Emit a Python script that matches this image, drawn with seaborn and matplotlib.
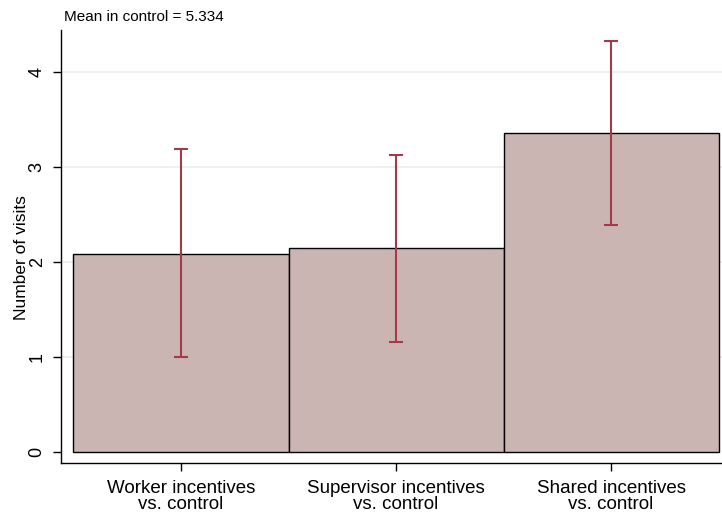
import matplotlib
matplotlib.use("Agg")
import matplotlib.pyplot as plt
import seaborn as sns
import pandas as pd

categories = ["Worker incentives\nvs. control",
              "Supervisor incentives\nvs. control",
              "Shared incentives\nvs. control"]
effects = [2.084, 2.147, 3.358]
ci_low = [1.000, 1.158, 2.389]
ci_high = [3.189, 3.126, 4.326]
y_ticks = [0, 1, 2, 3, 4]
control_mean = 5.334

sns.set_style("white")
plt.rcParams["font.family"] = ["Liberation Sans", "DejaVu Sans"]
plt.rcParams["text.color"] = "black"
plt.rcParams["axes.labelcolor"] = "black"
plt.rcParams["xtick.color"] = "black"
plt.rcParams["ytick.color"] = "black"

df = pd.DataFrame({"group": categories, "effect": effects})

fig = plt.figure(figsize=(7.22, 5.14), dpi=100)
ax = fig.add_axes([61 / 722, 1 - 463 / 514, 661 / 722, 433 / 514])

ax.set_axisbelow(True)
for t in y_ticks[1:]:
    ax.axhline(t, color="#e8eeee", lw=1.2, zorder=0)

sns.barplot(data=df, x="group", y="effect", width=1.0, color="#cbb5b2",
            saturation=1, edgecolor="black", linewidth=1.0, ax=ax, zorder=2)

xs = range(len(categories))
lo_err = [e - l for e, l in zip(effects, ci_low)]
hi_err = [h - e for e, h in zip(effects, ci_high)]
ax.errorbar(list(xs), effects, yerr=[lo_err, hi_err], fmt="none",
            ecolor="#a23a48", elinewidth=1.5, capsize=5, capthick=1.5, zorder=3)

ax.set_xlim(-0.558, 2.516)
ax.set_ylim(-0.116, 4.44)
ax.set_yticks(y_ticks)
ax.set_yticklabels([str(t) for t in y_ticks], rotation=90, va="center", fontsize=13)
ax.set_xticks(list(xs))
ax.set_xticklabels(categories, fontsize=13.5, linespacing=0.92)
ax.set_xlabel("")
ax.set_ylabel("Number of visits", fontsize=12.5)
ax.yaxis.set_label_coords(-0.049, 0.475)
ax.tick_params(axis="both", direction="out", length=6, width=1, color="black",
               left=True, bottom=True)
ax.tick_params(axis="x", pad=6)
ax.tick_params(axis="y", pad=5)

for side in ["top", "right"]:
    ax.spines[side].set_visible(False)
for side in ["left", "bottom"]:
    ax.spines[side].set_color("black")
    ax.spines[side].set_linewidth(1.0)

fig.text(64 / 722, 1 - 17 / 514, f"Mean in control = {control_mean:.3f}",
         fontsize=11, va="center", ha="left")

fig.savefig("out.png", dpi=100, facecolor="white")
